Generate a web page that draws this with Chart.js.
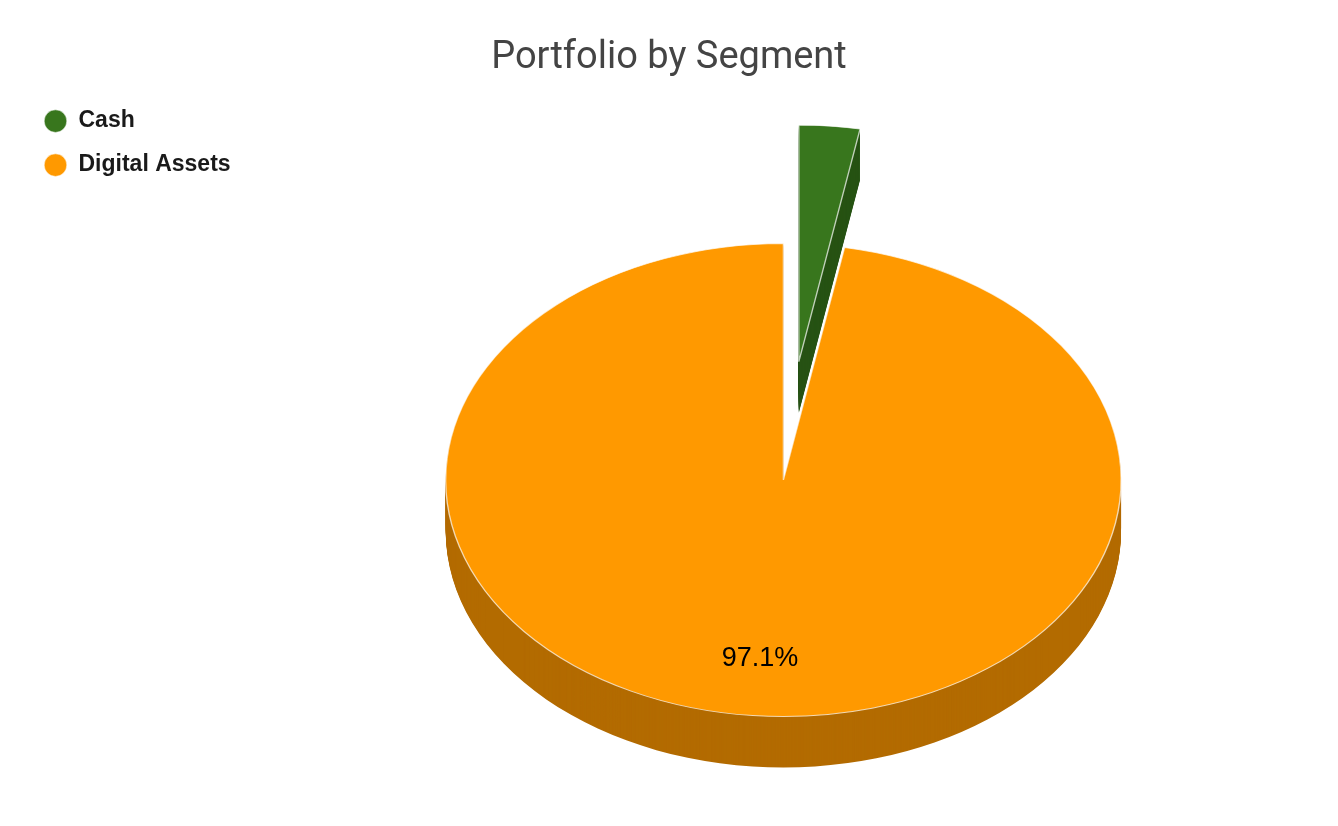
<!DOCTYPE html>
<html>
<head>
<meta charset="utf-8">
<script src="https://cdn.jsdelivr.net/npm/chart.js@4.4.1/dist/chart.umd.min.js"></script>
<style>
  html, body { margin: 0; padding: 0; background: #fff; overflow: hidden; }
  #wrap { width: 1338px; height: 826px; }
</style>
</head>
<body>
<div id="wrap"><canvas id="chart1"></canvas></div>
<script>
const segments = ['Cash', 'Digital Assets'];
const shares = [2.9, 97.1];
const sliceColors = ['#38761d', '#ff9900'];
const sideColors = ['#275314', '#b36b00'];
const explode = [100.5, 0];
const showLabel = [false, true];

// flat pie (radius PIE_R) is squashed onto a tilted disc with a rim
const TILT = { cx: 783.4, cy: 480, rx: 337.7, ry: 236.5, depth: 51 };
const PIE_R = 200;

function tilt(ctx, arc, i, drop) {
  const mid = (arc.startAngle + arc.endAngle) / 2;
  ctx.translate(TILT.cx, TILT.cy + drop);
  ctx.scale(TILT.rx / PIE_R, TILT.ry / PIE_R);
  ctx.translate(-arc.x + Math.cos(mid) * explode[i], -arc.y + Math.sin(mid) * explode[i]);
}

const copyKeys = ['borderAlign', 'borderRadius', 'borderJoinStyle', 'borderDash',
  'borderDashOffset', 'offset', 'spacing', 'circular', 'selfJoin'];

function drawArc(ctx, arc, i, drop, fill, lineW) {
  const base = arc.options;
  const opts = {};
  copyKeys.forEach(k => opts[k] = base[k]);
  opts.backgroundColor = fill;
  opts.borderColor = base.borderColor;
  opts.borderWidth = lineW;
  ctx.save();
  tilt(ctx, arc, i, drop);
  arc.options = opts;
  arc.draw(ctx);
  arc.options = base;
  ctx.restore();
}

const tiltPlugin = {
  id: 'tilt',
  beforeDatasetDraw() {
    return false; // slices are drawn below, tilted
  },
  afterDatasetsDraw(chart) {
    const ctx = chart.ctx;
    const arcs = chart.getDatasetMeta(0).data;
    for (let d = TILT.depth; d >= 1; d--) {
      arcs.forEach((arc, i) => drawArc(ctx, arc, i, d, sideColors[i], 0));
    }
    arcs.forEach((arc, i) => drawArc(ctx, arc, i, 0, sliceColors[i], arc.options.borderWidth));

    ctx.save();
    ctx.font = '27px "Liberation Sans", Arial, sans-serif';
    ctx.fillStyle = '#000';
    ctx.textAlign = 'center';
    ctx.textBaseline = 'middle';
    arcs.forEach((arc, i) => {
      if (!showLabel[i]) return;
      const mid = (arc.startAngle + arc.endAngle) / 2;
      const r = arc.outerRadius * 0.76;
      const x = TILT.cx + Math.cos(mid) * r * TILT.rx / PIE_R;
      const y = TILT.cy + Math.sin(mid) * r * TILT.ry / PIE_R;
      ctx.fillText(shares[i].toFixed(1) + '%', x, y);
    });
    ctx.restore();
  }
};

new Chart(document.getElementById('chart1'), {
  type: 'pie',
  data: {
    labels: segments,
    datasets: [{
      data: shares,
      backgroundColor: sliceColors,
      borderColor: 'rgba(255,255,255,0.7)',
      borderWidth: 0.8,
      radius: PIE_R,
      clip: false
    }]
  },
  options: {
    responsive: true,
    maintainAspectRatio: false,
    animation: false,
    events: [],
    layout: { padding: { left: 23, right: 23, top: 0 } },
    plugins: {
      title: {
        display: true,
        text: 'Portfolio by Segment',
        color: '#444',
        font: { family: 'Roboto', size: 38, weight: 'normal' },
        padding: { top: 36, bottom: 7 }
      },
      legend: {
        position: 'left',
        align: 'start',
        fullSize: false,
        labels: {
          usePointStyle: true,
          pointStyle: 'circle',
          boxHeight: 16,
          color: '#1a1a1a',
          font: { family: '"Liberation Sans", Arial, sans-serif', size: 23, weight: 'bold' },
          padding: 21
        }
      },
      tooltip: { enabled: false }
    }
  },
  plugins: [tiltPlugin]
});
</script>
</body>
</html>
